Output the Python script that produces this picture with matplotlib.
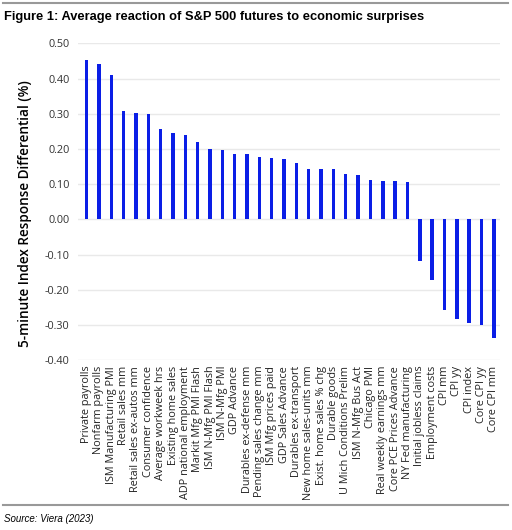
import matplotlib
matplotlib.use("Agg")
import matplotlib.pyplot as plt
from matplotlib.lines import Line2D

categories = [
    "Private payrolls", "Nonfarm payrolls", "ISM Manufacturing PMI", "Retail sales mm",
    "Retail sales ex-autos mm", "Consumer confidence", "Average workweek hrs",
    "Existing home sales", "ADP national employment", "Markit Mfg PMI Flash",
    "ISM N-Mfg PMI Flash", "ISM N-Mfg PMI", "GDP Advance", "Durables ex-defense mm",
    "Pending sales change mm", "ISM Mfg prices paid", "GDP Sales Advance",
    "Durables ex-transport", "New home sales-units mm", "Exist. home sales % chg",
    "Durable goods", "U Mich Conditions Prelim", "ISM N-Mfg Bus Act", "Chicago PMI",
    "Real weekly earnings mm", "Core PCE Prices Advance", "NY Fed manufacturing",
    "Initial jobless claims", "Employment costs", "CPI mm", "CPI yy", "CPI index",
    "Core CPI yy", "Core CPI mm",
]
values = [
    0.452, 0.441, 0.411, 0.308, 0.303, 0.298, 0.256, 0.246, 0.241, 0.219,
    0.199, 0.196, 0.186, 0.186, 0.177, 0.173, 0.171, 0.159, 0.144, 0.142,
    0.142, 0.128, 0.125, 0.112, 0.110, 0.109, 0.105,
    -0.119, -0.172, -0.256, -0.282, -0.293, -0.301, -0.337,
]
yticks = [0.5, 0.4, 0.3, 0.2, 0.1, 0.0, -0.1, -0.2, -0.3, -0.4]

plt.rcParams['font.family'] = ['Liberation Sans', 'DejaVu Sans']
tick_font = ['Open Sans', 'DejaVu Sans']

fig = plt.figure(figsize=(5.12, 5.30), dpi=100)
ax = fig.add_axes([78/512, 1 - 360.3/530, (500 - 78)/512, (360.3 - 43.3)/530])

x = list(range(len(categories)))
ax.bar(x, values, width=0.28, color='#0a1ee6', zorder=3)
ax.set_xlim(-0.7, len(categories) - 0.5)
ax.set_ylim(-0.4, 0.5)
ax.set_yticks(yticks)
ax.set_yticklabels([f"{v:.2f}" for v in yticks], fontsize=7.8, color='#333333', family=tick_font)
ax.set_xticks(x)
ax.set_xticklabels(categories, rotation=90, fontsize=7.8, color='#222222', family=tick_font)
ax.tick_params(axis='y', length=0, pad=6)
ax.tick_params(axis='x', length=0, pad=4)
ax.grid(axis='y', color='#e9e9e9', linewidth=1, zorder=0)
for s in ax.spines.values():
    s.set_visible(False)
ax.set_ylabel("5-minute Index Response Differential (%)", fontsize=9.8, fontweight='semibold',
              family=tick_font)
ax.yaxis.set_label_coords(-0.108, 0.462)

fig.text(4/512, 1 - 17/530, "Figure 1: Average reaction of S&P 500 futures to economic surprises",
         fontsize=9.3, fontweight='bold', va='center', ha='left')
fig.text(4/512, 1 - 519/530, "Source: Viera (2023)", fontsize=7, style='italic', va='center', ha='left')

fig.add_artist(Line2D([3/512, 508/512], [1 - 3/530, 1 - 3/530], color='#999999', linewidth=1.5,
                      transform=fig.transFigure))
fig.add_artist(Line2D([3/512, 508/512], [1 - 505/530, 1 - 505/530], color='#999999', linewidth=1.5,
                      transform=fig.transFigure))

fig.savefig("out.png", dpi=100)
